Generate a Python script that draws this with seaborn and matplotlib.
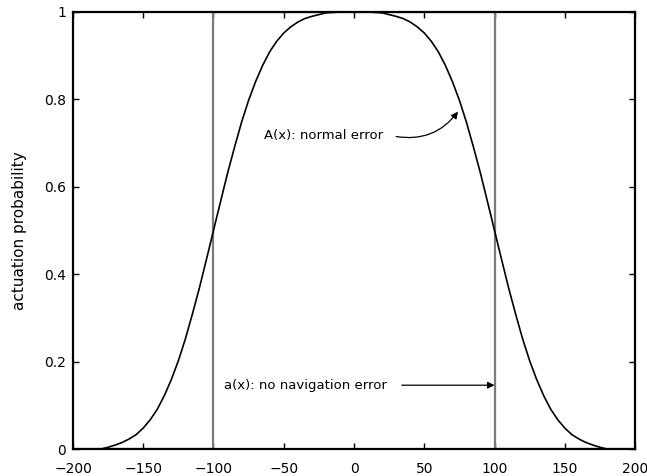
import numpy as np
import pandas as pd
import matplotlib
matplotlib.use("Agg")
import matplotlib.pyplot as plt
import seaborn as sns

# ----------------------------------------
# Data
# ----------------------------------------
x_vals = [-200, -195, -190, -185, -180, -175, -170, -165, -160, -155,
          -150, -145, -140, -135, -130, -125, -120, -115, -110, -105,
          -100, -95, -90, -85, -80, -75, -70, -65, -60, -55,
          -50, -45, -40, -35, -30, -25, -20, -15, -10, -5,
          0, 5, 10, 15, 20, 25, 30, 35, 40, 45,
          50, 55, 60, 65, 70, 75, 80, 85, 90, 95,
          100, 105, 110, 115, 120, 125, 130, 135, 140, 145,
          150, 155, 160, 165, 170, 175, 180, 185, 190, 195, 200]

# A(x): normal error
A_vals = [0.0, 0.0, 0.0, 0.0, 0.0, 0.004, 0.009, 0.015, 0.023, 0.033,
          0.048, 0.067, 0.091, 0.122, 0.159, 0.202, 0.252, 0.309, 0.369, 0.434,
          0.500, 0.566, 0.631, 0.691, 0.748, 0.798, 0.841, 0.878, 0.909, 0.933,
          0.952, 0.966, 0.977, 0.985, 0.990, 0.994, 0.998, 0.999, 1.0, 1.0,
          1.0, 1.0, 1.0, 0.999, 0.998, 0.994, 0.990, 0.985, 0.977, 0.966,
          0.952, 0.933, 0.909, 0.878, 0.841, 0.798, 0.748, 0.691, 0.631, 0.566,
          0.500, 0.434, 0.369, 0.309, 0.252, 0.202, 0.159, 0.122, 0.091, 0.067,
          0.048, 0.033, 0.023, 0.015, 0.009, 0.004, 0.0, 0.0, 0.0, 0.0, 0.0]

# a(x): no navigation error (step function)
a_x = [-200, -100, -100, 100, 100, 200]
a_y = [0, 0, 1, 1, 0, 0]

x_ticks = [-200, -150, -100, -50, 0, 50, 100, 150, 200]
x_tick_labels = ["\u2212200", "\u2212150", "\u2212100", "\u221250", "0", "50", "100", "150", "200"]
y_ticks = [0, 0.2, 0.4, 0.6, 0.8, 1]
y_tick_labels = ["0", "0.2", "0.4", "0.6", "0.8", "1"]

df_A = pd.DataFrame({"x": x_vals, "y": A_vals})
df_a = pd.DataFrame({"x": a_x, "y": a_y})

# ----------------------------------------
# Plot
# ----------------------------------------
sns.set_style("ticks")
plt.rcParams["font.family"] = ["DejaVu Sans"]
plt.rcParams["text.color"] = "black"

fig = plt.figure(figsize=(6.47, 4.76), dpi=100)
ax = fig.add_axes([0.1128, 0.0567, 0.8687, 0.9181])

sns.lineplot(data=df_a, x="x", y="y", sort=False, estimator=None,
             color="#7a7a7a", linewidth=1.6, ax=ax)
sns.lineplot(data=df_A, x="x", y="y", sort=False, estimator=None,
             color="black", linewidth=1.2, ax=ax)

ax.set_xlim(-200, 200)
ax.set_ylim(0, 1)
ax.set_xticks(x_ticks)
ax.set_xticklabels(x_tick_labels, fontsize=10)
ax.set_yticks(y_ticks)
ax.set_yticklabels(y_tick_labels, fontsize=10)
ax.tick_params(direction="in", top=True, right=True, length=4, width=1,
               colors="black", pad=5)
ax.tick_params(axis="x", pad=9)
ax.set_xlabel("")
ax.set_ylabel("actuation probability", fontsize=11, labelpad=12, color="black")
for sp in ax.spines.values():
    sp.set_linewidth(1.6)
    sp.set_color("black")
    sp.set_visible(True)

# annotations
ax.text(-64, 0.718, "A(x): normal error", fontsize=9.5, ha="left", va="center")
ax.annotate("", xy=(74, 0.772), xytext=(30, 0.715),
            arrowprops=dict(arrowstyle="-|>", color="black", lw=0.9,
                            connectionstyle="arc3,rad=0.3", shrinkA=0, shrinkB=0,
                            mutation_scale=10))
ax.text(-92.5, 0.146, "a(x): no navigation error", fontsize=9.5, ha="left", va="center")
ax.annotate("", xy=(100, 0.146), xytext=(34, 0.146),
            arrowprops=dict(arrowstyle="-|>", color="black", lw=0.9,
                            shrinkA=0, shrinkB=0, mutation_scale=10))

fig.savefig("out.png", dpi=100)
